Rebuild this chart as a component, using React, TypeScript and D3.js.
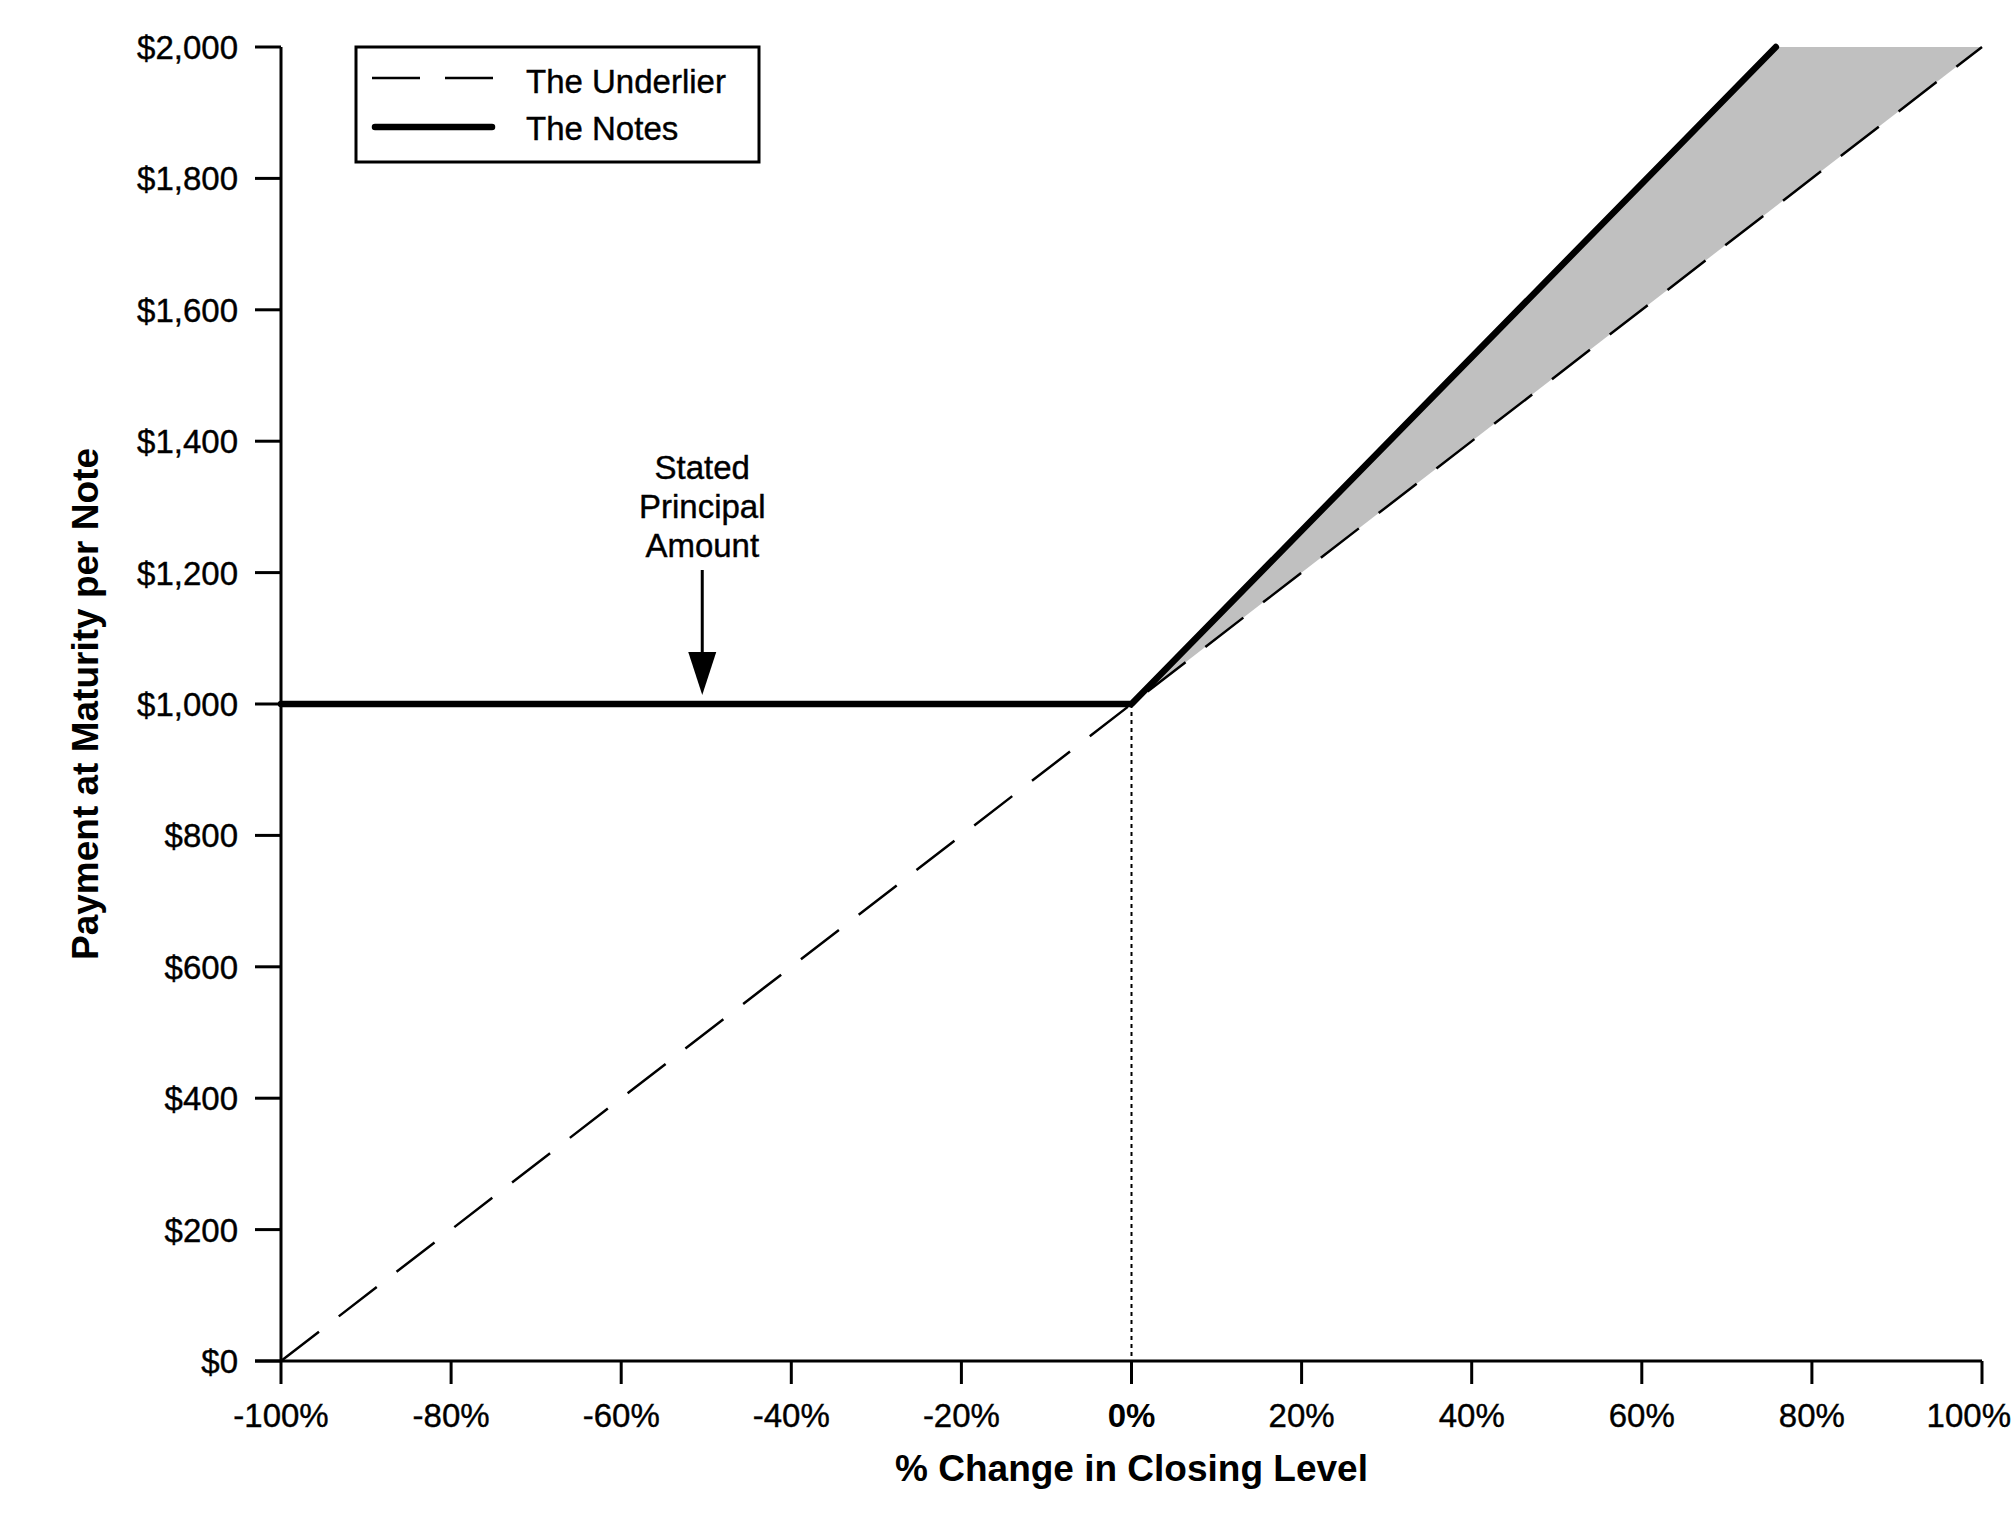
import React from "react";
import * as d3 from "d3";

// x: % change in closing level, y: payment at maturity per note
const xTicks = [-100, -80, -60, -40, -20, 0, 20, 40, 60, 80, 100];
const yTicks = [0, 200, 400, 600, 800, 1000, 1200, 1400, 1600, 1800, 2000];
const underlier = [
  { x: -100, y: 0 },
  { x: 0, y: 1000 },
  { x: 100, y: 2000 },
];
const notes = [
  { x: -100, y: 1000 },
  { x: 0, y: 1000 },
  { x: 75.76, y: 2000 },
];
// area between notes and underlier above 0%
const shade = [
  { x: 0, y: 1000 },
  { x: 75.76, y: 2000 },
  { x: 100, y: 2000 },
];
const annotationLines = ["Stated", "Principal", "Amount"];
const annotationAt = { x: -50, y: 1000 };

const W = 2015;
const H = 1516;
const FONT = "'Liberation Sans', Arial, sans-serif";

export default function App() {
  const x = d3.scaleLinear().domain([-100, 100]).range([281, 1982]);
  const y = d3.scaleLinear().domain([0, 2000]).range([1361, 47]);

  const line = d3
    .line<{ x: number; y: number }>()
    .x((d) => x(d.x))
    .y((d) => y(d.y));

  const shadePath =
    line(shade)! + "L" + x(100) + "," + y(2000) + "L" + x(0) + "," + y(1000) + "Z";
  const fmt = d3.format(",");

  const ax = annotationAt;
  const tipY = y(ax.y) - 9;

  return (
    <svg
      width={W}
      height={H}
      style={{ position: "absolute", left: 0, top: 0, background: "#fff" }}
      fontFamily={FONT}
    >
      {/* shaded gain */}
      <path d={shadePath} fill="#c0c0c0" stroke="none" />

      {/* dotted line at 0% */}
      <line
        x1={x(0)}
        x2={x(0)}
        y1={y(1000)}
        y2={y(0)}
        stroke="#000"
        strokeWidth={2}
        strokeDasharray="4,4"
      />

      {/* underlier */}
      <path
        d={line(underlier)!}
        fill="none"
        stroke="#000"
        strokeWidth={2.5}
        strokeDasharray="48,25"
      />

      {/* notes */}
      <path
        d={line(notes)!}
        fill="none"
        stroke="#000"
        strokeWidth={6.5}
        strokeLinecap="round"
        strokeLinejoin="round"
      />

      {/* y axis */}
      <line x1={x(-100)} x2={x(-100)} y1={y(0)} y2={y(2000)} stroke="#000" strokeWidth={3} />
      {yTicks.map((t) => (
        <g key={t}>
          <line x1={x(-100) - 26} x2={x(-100)} y1={y(t)} y2={y(t)} stroke="#000" strokeWidth={3} />
          <text x={238} y={y(t) + 12} textAnchor="end" fontSize={33} stroke="#000" strokeWidth={0.4}>
            ${fmt(t)}
          </text>
        </g>
      ))}

      {/* x axis */}
      <line x1={x(-100) - 26} x2={x(100)} y1={y(0)} y2={y(0)} stroke="#000" strokeWidth={3} />
      {xTicks.map((t) => (
        <g key={t}>
          <line x1={x(t)} x2={x(t)} y1={y(0)} y2={y(0) + 23} stroke="#000" strokeWidth={3} />
          <text
            x={t === 100 ? 2011 : x(t)}
            y={1427}
            textAnchor={t === 100 ? "end" : "middle"}
            fontSize={33}
            fontWeight={t === 0 ? "bold" : "normal"}
            stroke="#000"
            strokeWidth={t === 0 ? 0 : 0.4}
          >
            {t}%
          </text>
        </g>
      ))}

      {/* axis titles */}
      <text x={(x(-100) + x(100)) / 2} y={1481} textAnchor="middle" fontSize={37} fontWeight="bold">
        % Change in Closing Level
      </text>
      <text
        transform={`translate(98, ${(y(0) + y(2000)) / 2}) rotate(-90)`}
        textAnchor="middle"
        fontSize={37}
        fontWeight="bold"
      >
        Payment at Maturity per Note
      </text>

      {/* annotation */}
      {annotationLines.map((s, i) => (
        <text key={s} x={x(ax.x) - 4} y={479 + i * 39} textAnchor="middle" fontSize={33} stroke="#000" strokeWidth={0.4}>
          {s}
        </text>
      ))}
      <line x1={x(ax.x) - 4} x2={x(ax.x) - 4} y1={570} y2={655} stroke="#000" strokeWidth={3} />
      <path
        d={`M${x(ax.x) - 18},${652}L${x(ax.x) + 10},${652}L${x(ax.x) - 4},${tipY}Z`}
        fill="#000"
      />

      {/* legend */}
      <rect x={356} y={47} width={403} height={115} fill="#fff" stroke="#000" strokeWidth={3} />
      <line x1={372} x2={495} y1={78} y2={78} stroke="#000" strokeWidth={2.5} strokeDasharray="48,25" />
      <text x={526} y={93} fontSize={33} stroke="#000" strokeWidth={0.4}>
        The Underlier
      </text>
      <line
        x1={375}
        x2={492}
        y1={127}
        y2={127}
        stroke="#000"
        strokeWidth={6.5}
        strokeLinecap="round"
      />
      <text x={526} y={140} fontSize={33} stroke="#000" strokeWidth={0.4}>
        The Notes
      </text>
    </svg>
  );
}
